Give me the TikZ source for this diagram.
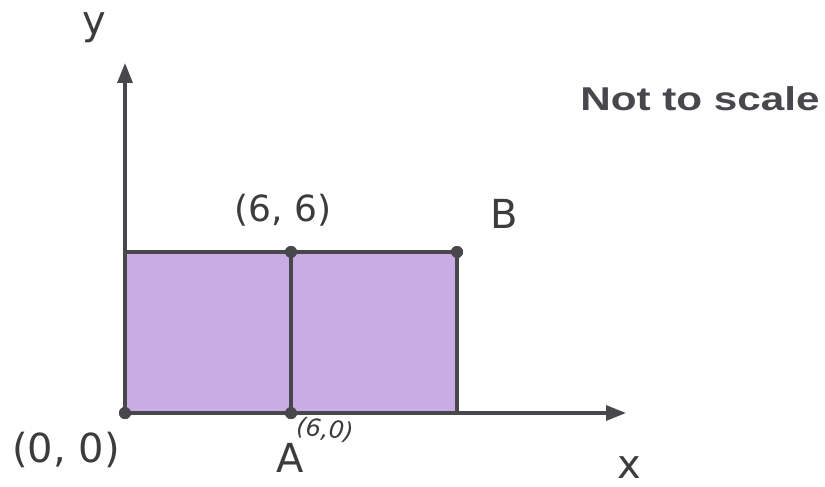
\documentclass[tikz,border=0pt]{standalone}
\usepackage{fontspec}
\setmainfont{DejaVu Sans}
\newfontfamily\boldsans{Liberation Sans}
\usetikzlibrary{arrows.meta}
\definecolor{fillpurp}{RGB}{202,172,228}
\definecolor{inkgray}{RGB}{72,72,76}
\definecolor{txtgray}{RGB}{60,60,62}
\tikzset{
  ln/.style={draw=inkgray, line width=3.2pt},
  axis/.style={ln, -{Triangle[length=20pt,width=15pt]}},
  pt/.style={circle, fill=inkgray, inner sep=0pt, minimum size=12pt},
  lab/.style={text=txtgray, inner sep=0pt},
}
\begin{document}
\begin{tikzpicture}[x=1pt,y=-1pt]
\useasboundingbox[fill=white] (0,0) rectangle (825,487);
% geometry
\coordinate (O) at (125,413);
\coordinate (TL) at (125,252);
\coordinate (ytip) at (125,63);
\coordinate (xtip) at (626,413);
\coordinate (BR) at (457,413);
\node[pt] (p0) at (125,413) {};
\node[pt] (pA) at (291,413) {};
\node[pt] (p6) at (291,252) {};
\node[pt] (pB) at (457,252) {};
% fill
\fill[fillpurp] (TL) rectangle (BR);
\draw[ln] (TL) -- (pB.center) -- (BR);
\draw[ln] (p6.center) -- (pA.center);
\draw[axis] (O) -- (ytip);
\draw[axis] (O) -- (xtip);
\node[pt] at (p0) {};
\node[pt] at (pA) {};
\node[pt] at (p6) {};
\node[pt] at (pB) {};
% labels
\node[lab, font=\fontsize{40}{42}\selectfont] (ly) at (94,28) {y};
\node[lab, font=\fontsize{40}{42}\selectfont] (lx) at (629,468) {x};
\node[lab, font=\fontsize{36}{38}\selectfont] (l66) at (283,210) {(6, 6)};
\node[lab, font=\fontsize{40}{42}\selectfont] (lB) at (504,214) {B};
\node[lab, font=\fontsize{40}{42}\selectfont] (l00) at (66,450) {(0, 0)};
\node[lab, font=\fontsize{40}{42}\selectfont] (lA) at (290,458) {A};
\node[lab, font=\fontsize{24}{26}\selectfont\itshape, rotate=-6] (l60) at (325,430) {(6,0)};
\node[lab, text=inkgray, font=\boldsans\bfseries\fontsize{33}{35}\selectfont] (nts) at (700,99) {\scalebox{1.28}[1]{Not to scale}};
\end{tikzpicture}
\end{document}
